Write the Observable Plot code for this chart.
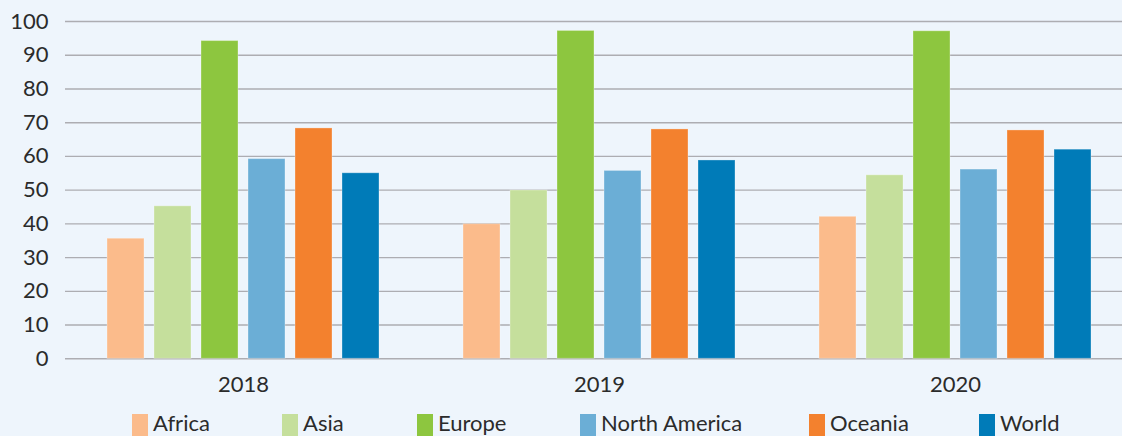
<!DOCTYPE html>
<html>
<head>
<meta charset="utf-8">
<script src="https://cdn.jsdelivr.net/npm/d3@7"></script>
<script src="https://cdn.jsdelivr.net/npm/@observablehq/plot@0.6"></script>
<style>
  html, body { margin: 0; padding: 0; background: #eef5fc; }
  #wrap { position: relative; width: 1122px; height: 436px; overflow: hidden; background: #eef5fc; font-family: Lato, "Open Sans", sans-serif; }
  #legend { position: absolute; left: 0; top: 400px; width: 1122px; height: 36px; }
  .item { position: absolute; top: 12px; display: flex; align-items: flex-start; font-size: 22px; color: #2b2b2b; line-height: 1; }
  .sw { width: 16px; height: 24px; margin-right: 5px; margin-top: 2px; }
  .item span.t { margin-top: 0px; }
</style>
</head>
<body>
<div id="wrap">
  <div id="chart"></div>
  <div id="legend"></div>
</div>
<script>
const years = ["2018", "2019", "2020"];
const regions = ["Africa", "Asia", "Europe", "North America", "Oceania", "World"];
const colors = ["#fbbb8b", "#c5df9c", "#8dc63f", "#6baed6", "#f3812e", "#007bb8"];
const africa = [35.6, 39.9, 42.1];
const asia = [45.2, 49.9, 54.4];
const europe = [94.2, 97.2, 97.1];
const northAmerica = [59.2, 55.7, 56.1];
const oceania = [68.3, 68.0, 67.7];
const world = [55.0, 58.8, 62.0];
const yTicks = [0, 10, 20, 30, 40, 50, 60, 70, 80, 90, 100];

const series = [africa, asia, europe, northAmerica, oceania, world];
const data = [];
years.forEach((yr, i) => {
  regions.forEach((r, j) => data.push({year: yr, region: r, value: series[j][i]}));
});

const chart = Plot.plot({
  width: 1122,
  height: 400,
  marginLeft: 65,
  marginRight: 0,
  marginTop: 21,
  marginBottom: 42,
  style: {background: "transparent", fontFamily: "Lato, 'Open Sans', sans-serif", fontSize: "22px", color: "#2b2b2b", overflow: "visible"},
  fx: {domain: years, range: [64.5, 1132.5], padding: 0, axis: "bottom", tickSize: 0, tickPadding: 18, label: null},
  x: {domain: regions, paddingInner: 0.211, paddingOuter: 0.86, axis: null},
  y: {domain: [0, 100], range: [358.3, 21], axis: null},
  color: {domain: regions, range: colors},
  marks: [
    Plot.ruleY(yTicks, {stroke: "#adadb2", strokeWidth: 1.4}),
    Plot.barY(data, {fx: "year", x: "region", y: "value", fill: "region", stroke: "white", strokeOpacity: 0.3, strokeWidth: 1}),
    Plot.axisY({ticks: yTicks, tickSize: 0, tickPadding: 17, fontSize: 22, label: null, facetAnchor: "left", anchor: "left"})
  ]
});
document.getElementById("chart").appendChild(chart);

const legendLefts = [132, 282, 417, 580, 809, 979];
const legend = document.getElementById("legend");
regions.forEach((r, i) => {
  const it = document.createElement("div");
  it.className = "item";
  it.style.left = legendLefts[i] + "px";
  it.innerHTML = `<div class="sw" style="background:${colors[i]}"></div><span class="t">${r}</span>`;
  legend.appendChild(it);
});
</script>
</body>
</html>
